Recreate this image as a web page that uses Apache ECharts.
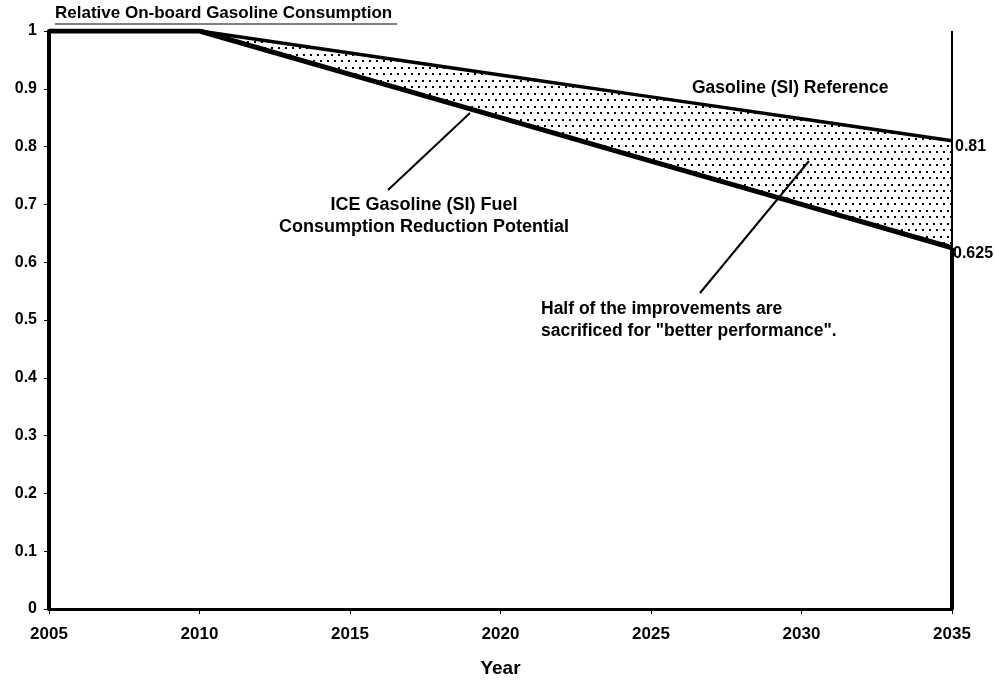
<!DOCTYPE html>
<html>
<head>
<meta charset="utf-8">
<script src="https://cdn.jsdelivr.net/npm/echarts@6/dist/echarts.min.js"></script>
<style>
html,body{margin:0;padding:0;background:#fff;}
#chart{width:995px;height:683px;}
</style>
</head>
<body>
<div id="chart"></div>
<script>
// ---- data ----
const years = [2005, 2010, 2015, 2020, 2025, 2030, 2035];
const reference = [1, 1, 0.962, 0.924, 0.886, 0.848, 0.81];
const potential = [1, 1, 0.925, 0.85, 0.775, 0.70, 0.625];
const yTicks = [0, 0.1, 0.2, 0.3, 0.4, 0.5, 0.6, 0.7, 0.8, 0.9, 1];
const title = 'Relative On-board Gasoline Consumption';
const xName = 'Year';
const refNote = 'Gasoline (SI) Reference';
const potNote = ['ICE Gasoline (SI) Fuel', 'Consumption Reduction Potential'];
const halfNote = ['Half of the improvements are', 'sacrificed for "better performance".'];

const FONT = '"Liberation Sans", Arial, Helvetica, sans-serif';

// dotted pattern tile
const tile = document.createElement('canvas');
tile.width = 14; tile.height = 13;
const tc = tile.getContext('2d');
tc.fillStyle = '#000';
tc.fillRect(2, 2, 2, 2);
tc.fillRect(9, 2, 2, 2);
tc.fillRect(5, 8, 2, 2);
tc.fillRect(12, 8, 2, 2);

const chart = echarts.init(document.getElementById('chart'), null, {renderer: 'canvas'});
const last = years.length - 1;

const option = {
  animation: false,
  backgroundColor: '#fff',
  textStyle: {fontFamily: FONT},
  grid: {left: 49, right: 43, top: 31, bottom: 73, containLabel: false},
  xAxis: {
    type: 'value', min: 2005, max: 2035, interval: 5,
    name: xName, nameLocation: 'middle', nameGap: 50,
    nameTextStyle: {fontFamily: FONT, fontWeight: 'bold', fontSize: 19, color: '#000'},
    axisLine: {show: true, lineStyle: {color: '#000', width: 3}},
    axisTick: {show: true, length: 5, lineStyle: {color: '#000', width: 1}},
    axisLabel: {fontFamily: FONT, fontWeight: 'bold', fontSize: 17, color: '#000', margin: 17,
      formatter: v => String(v)},
    splitLine: {show: false}
  },
  yAxis: {
    type: 'value', min: 0, max: 1, interval: 0.1,
    axisLine: {show: true, lineStyle: {color: '#000', width: 4}},
    axisTick: {show: true, length: 5, lineStyle: {color: '#000', width: 1}},
    axisLabel: {fontFamily: FONT, fontWeight: 'bold', fontSize: 16, color: '#000', margin: 12,
      formatter: v => String(yTicks.find(t => Math.abs(t - v) < 1e-9) ?? v)},
    splitLine: {show: false}
  },
  series: [
    {
      type: 'custom',
      z: 1,
      silent: true,
      data: years.map((y, i) => [y, reference[i], potential[i]]),
      renderItem: function (params, api) {
        if (params.dataIndex !== 0) return null;
        const pts = [];
        for (let i = 0; i < years.length; i++) pts.push(api.coord([years[i], reference[i]]));
        for (let i = years.length - 1; i >= 0; i--) pts.push(api.coord([years[i], potential[i]]));
        return {type: 'polygon', shape: {points: pts}, style: {fill: {image: tile, repeat: 'repeat'}, stroke: null}};
      }
    },
    {
      name: 'Reference', type: 'line', z: 3,
      data: years.map((y, i) => [y, reference[i]]),
      symbol: 'none',
      lineStyle: {color: '#000', width: 3.5},
      endLabel: {show: true, formatter: p => String(p.value[1]), fontFamily: FONT, fontWeight: 'bold',
        fontSize: 16, color: '#000', distance: 3, offset: [0, 6]},
      markLine: {
        silent: true, symbol: 'none', label: {show: false},
        lineStyle: {color: '#000', width: 2, type: 'solid'},
        data: [[{coord: [years[last], potential[last]]}, {coord: [years[last], 1]}]]
      }
    },
    {
      name: 'Potential', type: 'line', z: 4,
      data: years.map((y, i) => [y, potential[i]]),
      symbol: 'none',
      lineStyle: {color: '#000', width: 5},
      endLabel: {show: true, formatter: p => String(p.value[1]), fontFamily: FONT, fontWeight: 'bold',
        fontSize: 16, color: '#000', distance: 1, offset: [0, 6]},
      markLine: {
        silent: true, symbol: 'none', label: {show: false},
        lineStyle: {color: '#000', width: 4, type: 'solid'},
        data: [[{coord: [years[last], 0]}, {coord: [years[last], potential[last]]}]]
      }
    }
  ],
  graphic: [
    {type: 'text', left: 55, top: 5, style: {text: title, fontFamily: FONT, fontWeight: 'bold', fontSize: 17, fill: '#000'}},
    {type: 'line', shape: {x1: 55, y1: 24, x2: 397, y2: 24}, style: {stroke: '#000', lineWidth: 1}},
    {type: 'text', left: 692, top: 79, style: {text: refNote, fontFamily: FONT, fontWeight: 'bold', fontSize: 17.5, fill: '#000'}},
    {type: 'text', x: 424, y: 194, style: {text: potNote.join('\n'), align: 'center', lineHeight: 22, fontFamily: FONT, fontWeight: 'bold', fontSize: 18, fill: '#000'}},
    {type: 'text', x: 541, y: 298, style: {text: halfNote.join('\n'), align: 'left', lineHeight: 22, fontFamily: FONT, fontWeight: 'bold', fontSize: 17.5, fill: '#000'}},
    {type: 'line', shape: {x1: 388, y1: 190, x2: 470, y2: 113}, style: {stroke: '#000', lineWidth: 2}},
    {type: 'line', shape: {x1: 700, y1: 293, x2: 809, y2: 161}, style: {stroke: '#000', lineWidth: 2}}
  ]
};
chart.setOption(option);
</script>
</body>
</html>
